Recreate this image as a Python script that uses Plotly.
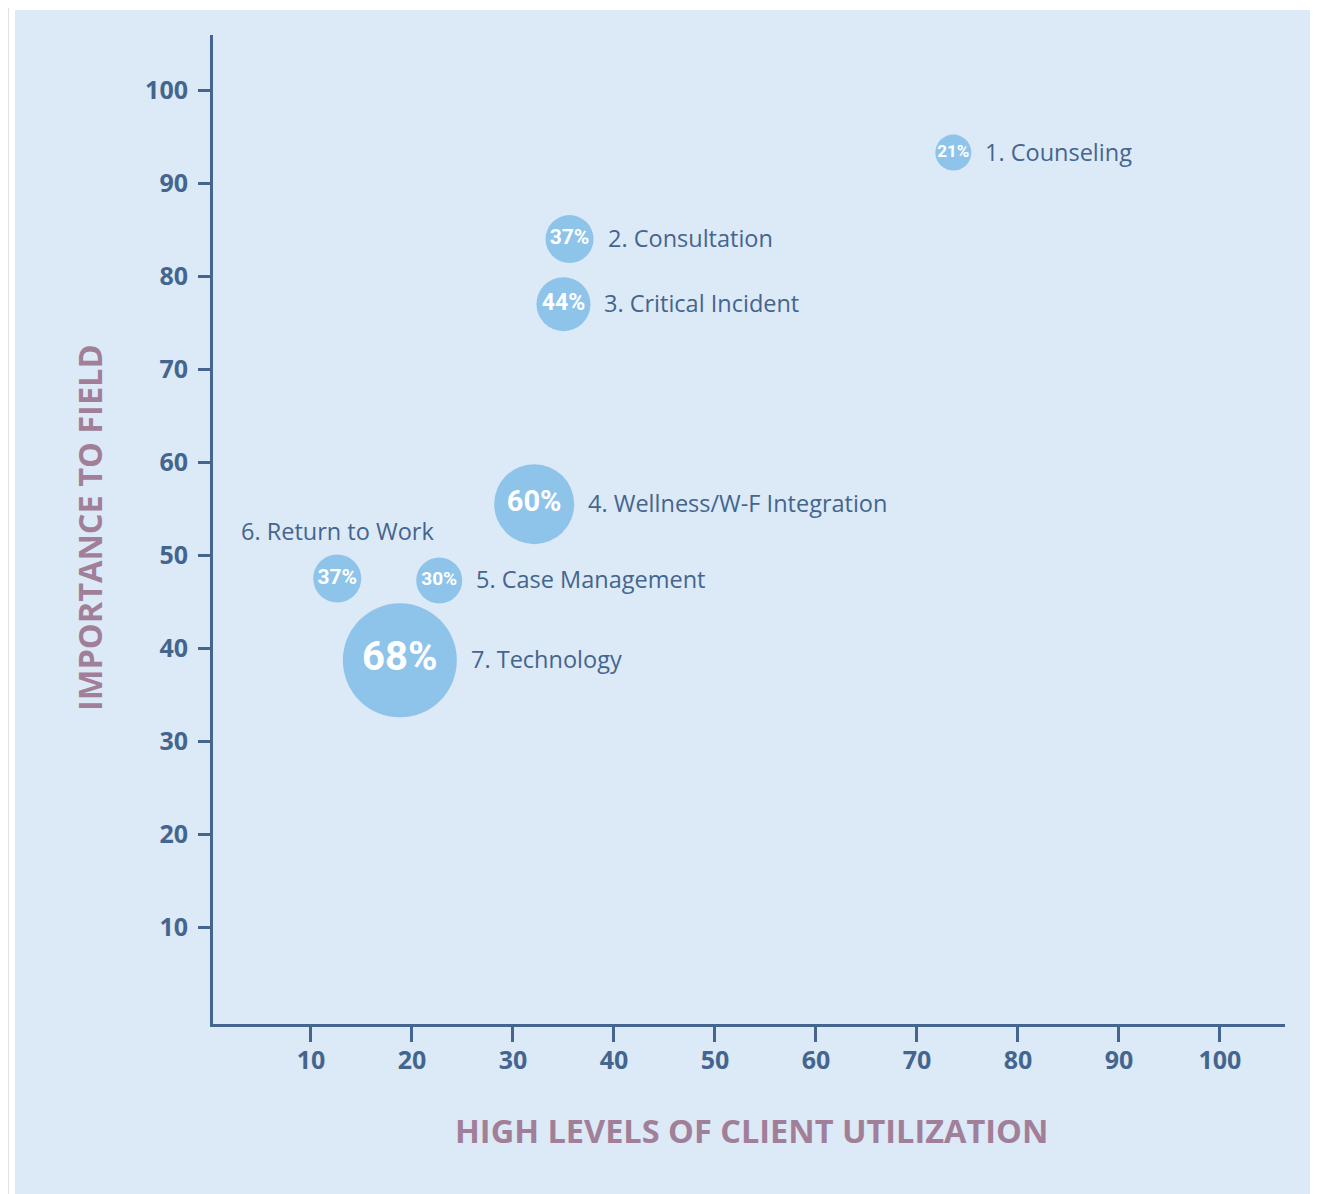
import plotly.graph_objects as go

# ---- data ----
names = ["1. Counseling", "2. Consultation", "3. Critical Incident",
         "4. Wellness/W-F Integration", "5. Case Management",
         "6. Return to Work", "7. Technology"]
utilization = [73.6, 35.6, 35.0, 32.1, 22.7, 12.6, 18.8]
importance = [93.3, 84.0, 77.0, 55.5, 47.3, 47.5, 38.7]
percent = [21, 37, 44, 60, 30, 37, 68]
tick_vals = [10, 20, 30, 40, 50, 60, 70, 80, 90, 100]

# ---- styles ----
bubble_px = [36, 48, 54, 80, 46, 48, 114]
pct_font = [17, 21, 23, 29, 19, 21, 40]
label_side = ["right", "right", "right", "right", "right", "top", "right"]

AX = "#44658d"
BG = "#dce9f6"
BUB = "#8ec4e9"
TITLE = "#a17f98"

OFF = 8  # page body margin
W, H = 1318 - OFF, 1194 - OFF
L, R, T, B = 213 - OFF, 33, 35 - OFF, 170
PW, PH = W - L - R, H - T - B
XPX, YPX = 10.1, 9.3
xr = [0.3, 0.3 + PW / XPX]
yr = [-0.4, -0.4 + PH / YPX]


def px2x(px):
    return (px - OFF - L) / PW


def px2y(py):
    return 1 - (py - OFF - T) / PH


fig = go.Figure()
fig.add_trace(go.Scatter(
    x=utilization, y=importance,
    mode="markers+text",
    marker=dict(size=bubble_px, color=BUB, line=dict(width=0), opacity=1),
    text=[f"{p}%" for p in percent],
    textposition="middle center",
    textfont=dict(color="white", size=pct_font, weight="bold", family="Roboto"),
    hoverinfo="skip", showlegend=False, cliponaxis=False,
))

for nm, xv, yv, d, side in zip(names, utilization, importance, bubble_px, label_side):
    if side == "right":
        fig.add_annotation(x=xv, y=yv, text=nm, showarrow=False, xanchor="left",
                           yanchor="middle", xshift=d / 2 + 12, yshift=1,
                           font=dict(size=23.5, color=AX, family="Open Sans"))
    else:
        fig.add_annotation(x=xv, y=yv, text=nm, showarrow=False, xanchor="center",
                           yanchor="bottom", yshift=d / 2 + 6,
                           font=dict(size=23.5, color=AX, family="Open Sans"))

fig.add_annotation(xref="paper", yref="paper", x=px2x(751), y=px2y(1130),
                   text="<b>HIGH LEVELS OF CLIENT UTILIZATION</b>", showarrow=False,
                   xanchor="center", yanchor="middle",
                   font=dict(size=32.5, color=TITLE, family="Open Sans"))
fig.add_annotation(xref="paper", yref="paper", x=px2x(89), y=px2y(528),
                   text="<b>IMPORTANCE TO FIELD</b>", showarrow=False, textangle=-90,
                   xanchor="center", yanchor="middle",
                   font=dict(size=32.5, color=TITLE, family="Open Sans"))

# frame
fig.add_shape(type="rect", xref="paper", yref="paper", layer="below",
              x0=px2x(9), x1=px2x(1340), y0=px2y(1220), y1=px2y(4),
              fillcolor="white", line=dict(width=0))
fig.add_shape(type="rect", xref="paper", yref="paper", layer="below",
              x0=px2x(15), x1=px2x(1313), y0=px2y(1220), y1=px2y(10),
              fillcolor=BG, line=dict(width=0))

tickfont = dict(size=25, color=AX, family="Open Sans", weight="bold")
fig.update_layout(
    width=W, height=H,
    margin=dict(l=L, r=R, t=T, b=B),
    paper_bgcolor="#e2e2e2", plot_bgcolor=BG,
    xaxis=dict(range=xr, tickvals=tick_vals, ticks="outside", ticklen=15,
               tickwidth=3, tickcolor=AX, showline=True, linewidth=3, linecolor=AX,
               showgrid=False, zeroline=False, tickfont=tickfont,
               ticklabelstandoff=-3, fixedrange=True),
    yaxis=dict(range=yr, tickvals=tick_vals, ticks="outside", ticklen=12,
               tickwidth=3, tickcolor=AX, showline=True, linewidth=3, linecolor=AX,
               showgrid=False, zeroline=False, tickfont=tickfont,
               ticklabelstandoff=5, fixedrange=True),
    xaxis2=dict(range=xr, overlaying="x", anchor="y", side="bottom",
                tickvals=tick_vals, ticks="inside", ticklen=23, tickwidth=3,
                tickcolor=AX, showticklabels=False, showline=False,
                showgrid=False, zeroline=False),
    yaxis2=dict(range=yr, overlaying="y", anchor="x", side="left",
                tickvals=tick_vals, ticks="inside", ticklen=26, tickwidth=3,
                tickcolor=AX, showticklabels=False, showline=False,
                showgrid=False, zeroline=False),
)

fig.write_html("out.html")
